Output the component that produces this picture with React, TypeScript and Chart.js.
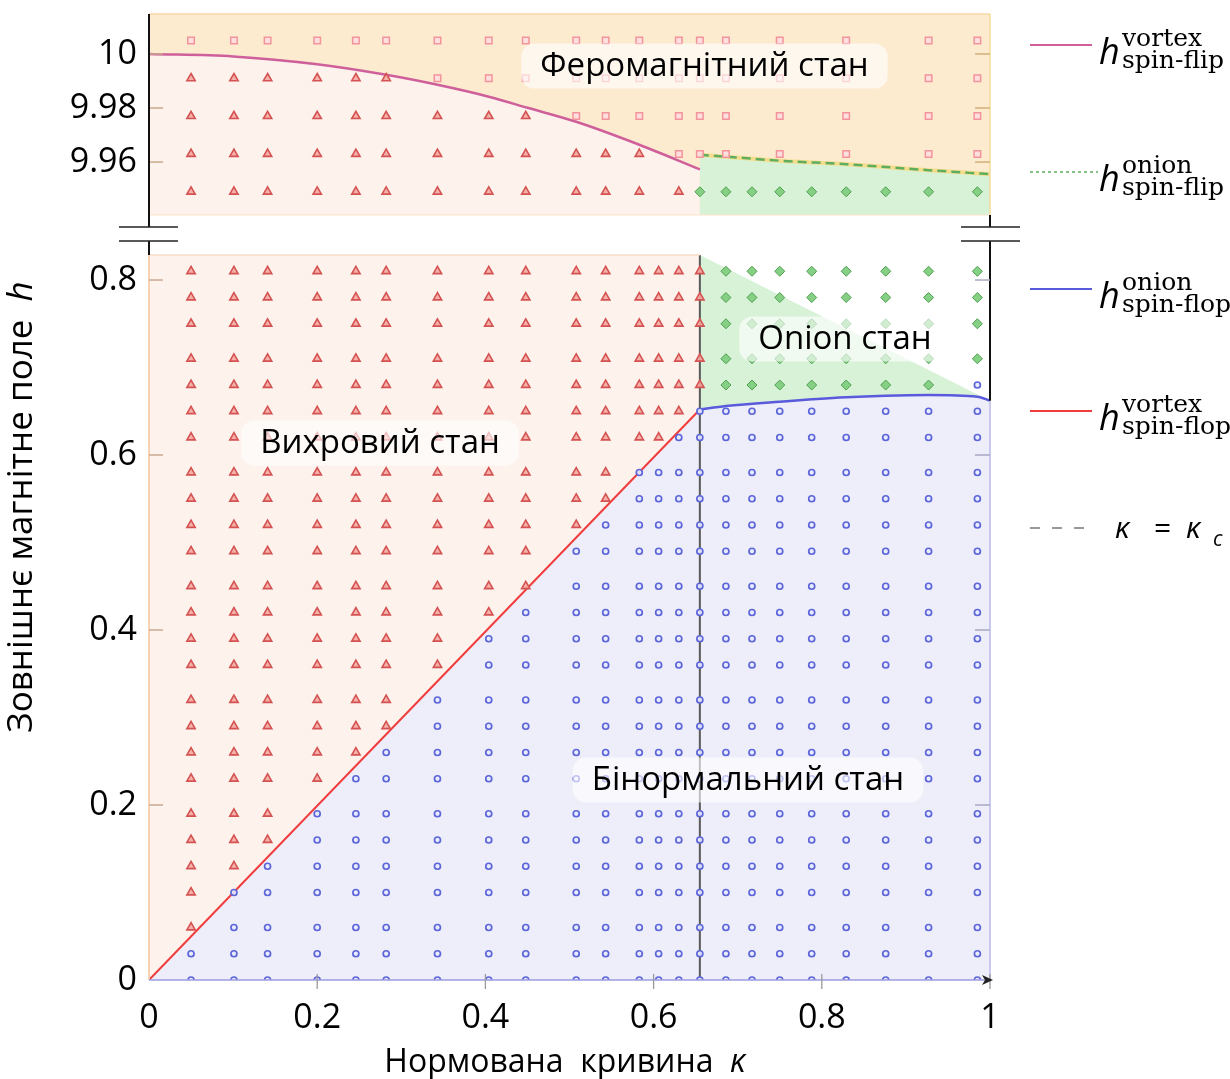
import React, { useEffect, useRef } from "react";
import { Chart, registerables } from "chart.js";

Chart.register(...registerables);

const FONT = "'Open Sans', 'Noto Sans', 'DejaVu Sans', sans-serif";
const SERIF = "'DejaVu Serif', serif";

// ---------- axes ----------
const KAPPA_C = 0.655;
const X_MIN = 0;
const X_MAX = 1;
const X_TICKS = [0, 0.2, 0.4, 0.6, 0.8, 1];
const X_TICK_LABELS = ["0", "0.2", "0.4", "0.6", "0.8", "1"];

const TOP_Y_MIN = 9.9404;
const TOP_Y_MAX = 10.0148;
const TOP_Y_TICKS = [9.96, 9.98, 10];
const TOP_Y_TICK_LABELS = ["9.96", "9.98", "10"];

const BOT_Y_MIN = 0;
const BOT_Y_MAX = 0.8286;
const BOT_Y_TICKS = [0, 0.2, 0.4, 0.6, 0.8];
const BOT_Y_TICK_LABELS = ["0", "0.2", "0.4", "0.6", "0.8"];

// ---------- sampled grid, upper panel ----------
const TOP_ROWS = [9.949, 9.963, 9.977, 9.991, 10.005];
const TOP_LEFT_COLS = [0.05, 0.101, 0.141, 0.2, 0.246, 0.282, 0.343, 0.404, 0.448, 0.508, 0.543, 0.583, 0.63];
const TOP_LEFT_VORTEX_COUNT = [4, 4, 4, 4, 4, 4, 3, 3, 3, 2, 2, 2, 1];
const TOP_RIGHT_FERRO_COLS = [0.655, 0.686, 0.75, 0.829, 0.927, 0.985];
const TOP_RIGHT_ONION_COLS = [0.655, 0.686, 0.717, 0.75, 0.788, 0.829, 0.876, 0.927, 0.985];

// ---------- sampled grid, lower panel ----------
const BOT_ROWS = [0, 0.03, 0.06, 0.1, 0.13, 0.16, 0.19, 0.23, 0.26, 0.29, 0.32, 0.36, 0.39, 0.42, 0.45, 0.49, 0.52, 0.55, 0.58, 0.62, 0.65, 0.68, 0.71, 0.75, 0.78, 0.81];
const BOT_COLS = [0.05, 0.101, 0.141, 0.2, 0.246, 0.282, 0.343, 0.404, 0.448, 0.508, 0.543, 0.583, 0.606, 0.63, 0.655, 0.686, 0.717, 0.75, 0.788, 0.829, 0.876, 0.927, 0.985];
const BOT_BINORMAL_COUNT = [2, 4, 5, 7, 8, 9, 11, 13, 14, 16, 17, 19, 19, 20, 21, 21, 21, 21, 21, 21, 21, 21, 22];

// ---------- boundary curves ----------
const VORTEX_FLIP_K = [0, 0.1, 0.2, 0.282, 0.343, 0.404, 0.45, 0.508, 0.583, 0.655];
const VORTEX_FLIP_H = [10.0, 9.9991, 9.9962, 9.9923, 9.9886, 9.9842, 9.9801, 9.9749, 9.9664, 9.9573];
const ONION_FLIP_K = [0.655, 0.686, 0.75, 0.829, 0.927, 1.0];
const ONION_FLIP_H = [9.9627, 9.962, 9.9605, 9.9592, 9.957, 9.9555];
const ONION_FLOP_K = [0.655, 0.686, 0.75, 0.829, 0.876, 0.927, 0.985, 1.0];
const ONION_FLOP_H = [0.652, 0.656, 0.661, 0.666, 0.6678, 0.6686, 0.6667, 0.662];
const VORTEX_FLOP_K = [0, 0.655];
const VORTEX_FLOP_H = [0, 0.652];
const ONION_EDGE_K = [0.655, 1.0];
const ONION_EDGE_H = [0.8286, 0.662];

// ---------- colours ----------
const C_FERRO_BG = "#fdebd0";
const C_VORTEX_BG = "#fdf2ec";
const C_BIN_BG = "#eeeefa";
const C_ONION_BG = "#d7f2d7";
const C_PINK = "#cf5f9a";
const C_GREEN = "#5fae5f";
const C_BLUE = "#5a5adc";
const C_RED = "#f03c3c";

const zip = (xs: number[], ys: number[]) => xs.map((x, i) => ({ x, y: ys[i] }));

// build marker sets
const topVortexPts: any[] = [];
const topFerroPts: any[] = [];
const topOnionPts: any[] = [];
TOP_LEFT_COLS.forEach((k, i) =>
  TOP_ROWS.forEach((h, j) => {
    (j < TOP_LEFT_VORTEX_COUNT[i] ? topVortexPts : topFerroPts).push({ x: k, y: h });
  })
);
TOP_RIGHT_FERRO_COLS.forEach((k) => TOP_ROWS.slice(1).forEach((h) => topFerroPts.push({ x: k, y: h })));
TOP_RIGHT_ONION_COLS.forEach((k) => topOnionPts.push({ x: k, y: TOP_ROWS[0] }));

const botBinPts: any[] = [];
const botVortexPts: any[] = [];
const botOnionPts: any[] = [];
BOT_COLS.forEach((k, i) =>
  BOT_ROWS.forEach((h, j) => {
    if (j < BOT_BINORMAL_COUNT[i]) botBinPts.push({ x: k, y: h });
    else if (k <= KAPPA_C + 1e-9) botVortexPts.push({ x: k, y: h });
    else botOnionPts.push({ x: k, y: h });
  })
);

const tri = (data: any[], order: number) => ({
  data, showLine: false, order, pointStyle: "triangle", pointRadius: 4.8,
  pointBorderColor: "#d45252", pointBackgroundColor: "rgba(244,170,162,0.9)", pointBorderWidth: 1.6,
});
const sq = (data: any[], order: number) => ({
  data, showLine: false, order, pointStyle: "rect", pointRadius: 4.6,
  pointBorderColor: "#f3939b", pointBackgroundColor: "rgba(255,222,222,0.9)", pointBorderWidth: 1.5,
});
const circ = (data: any[], order: number) => ({
  data, showLine: false, order, pointStyle: "circle", pointRadius: 3,
  pointBorderColor: "#5d66d8", pointBackgroundColor: "rgba(232,234,255,0.9)", pointBorderWidth: 1.7,
});
const dia = (data: any[], order: number) => ({
  data, showLine: false, order, pointStyle: "rectRot", pointRadius: 5,
  pointBorderColor: "#4f9f4f", pointBackgroundColor: "#86d086", pointBorderWidth: 1,
});
const fillSet = (data: any[], fill: string, bg: string, order: number, mono = false) => ({
  data, showLine: true, order, fill, backgroundColor: bg, borderColor: "rgba(0,0,0,0)", borderWidth: 0,
  pointRadius: 0, cubicInterpolationMode: mono ? "monotone" : "default", tension: 0,
});
const lineSet = (data: any[], color: string, width: number, order: number, extra: any = {}) => ({
  data, showLine: true, order, fill: false, borderColor: color, borderWidth: width, pointRadius: 0, tension: 0, ...extra,
});

function yScale(min: number, max: number, ticks: number[], labels: string[]) {
  return {
    type: "linear", min, max,
    afterFit: (s: any) => { s.width = 149; s.paddingTop = 0; s.paddingBottom = 0; },
    afterBuildTicks: (s: any) => { s.ticks = ticks.map((v) => ({ value: v })); },
    ticks: {
      callback: (v: number) => { const i = ticks.findIndex((t) => Math.abs(t - v) < 1e-9); return i >= 0 ? labels[i] : ""; },
      font: { family: FONT, size: 34 }, color: "#000", padding: 12,
    },
    grid: { display: false, drawTicks: false },
    border: { display: false },
  };
}

function seg(ctx: CanvasRenderingContext2D, x1: number, y1: number, x2: number, y2: number, color: string, w: number, dash: number[] = []) {
  ctx.save();
  ctx.strokeStyle = color; ctx.lineWidth = w; ctx.setLineDash(dash);
  ctx.beginPath(); ctx.moveTo(x1, y1); ctx.lineTo(x2, y2); ctx.stroke();
  ctx.restore();
}

function boxLabel(ctx: CanvasRenderingContext2D, text: string, cx: number, cy: number) {
  ctx.save();
  ctx.font = `33px ${FONT}`;
  const w = ctx.measureText(text).width + 38;
  const h = 45;
  const x = cx - w / 2, y = cy - h / 2, r = 13;
  ctx.fillStyle = "rgba(255,255,255,0.62)";
  ctx.beginPath();
  ctx.moveTo(x + r, y); ctx.arcTo(x + w, y, x + w, y + h, r); ctx.arcTo(x + w, y + h, x, y + h, r);
  ctx.arcTo(x, y + h, x, y, r); ctx.arcTo(x, y, x + w, y, r); ctx.closePath(); ctx.fill();
  ctx.fillStyle = "#000"; ctx.textAlign = "center"; ctx.textBaseline = "middle";
  ctx.fillText(text, cx, cy + 1);
  ctx.restore();
}

function rich(ctx: CanvasRenderingContext2D, parts: { t: string; f: string }[], cx: number, cy: number, rot: number) {
  ctx.save();
  ctx.translate(cx, cy); ctx.rotate(rot);
  let total = 0;
  const ws = parts.map((p) => { ctx.font = p.f; const w = ctx.measureText(p.t).width; total += w; return w; });
  let x = -total / 2;
  ctx.fillStyle = "#000"; ctx.textBaseline = "middle"; ctx.textAlign = "left";
  parts.forEach((p, i) => { ctx.font = p.f; ctx.fillText(p.t, x, 0); x += ws[i]; });
  ctx.restore();
}

const LEGEND = [
  { y: 45, color: C_PINK, dash: [] as number[], w: 2.2, x2: 1092, sup: "vortex", sub: "spin-flip" },
  { y: 172, color: C_GREEN, dash: [3, 3], w: 1.5, x2: 1098, sup: "onion", sub: "spin-flip" },
  { y: 289, color: C_BLUE, dash: [] as number[], w: 2.2, x2: 1092, sup: "onion", sub: "spin-flop" },
  { y: 411, color: C_RED, dash: [] as number[], w: 2.2, x2: 1092, sup: "vortex", sub: "spin-flop" },
];

const topDeco = {
  id: "topDeco",
  afterDraw(chart: any) {
    const { ctx, chartArea: a, scales } = chart;
    const x = scales.x, y = scales.y;
    seg(ctx, a.left, a.top, a.right, a.top, "#f7d8a6", 1.5);
    seg(ctx, a.right, a.top, a.right, a.bottom, "#f3dc98", 1.5);
    seg(ctx, a.left, a.bottom, a.right, a.bottom, "#fbe3c8", 1);
    TOP_Y_TICKS.forEach((v) => {
      const py = y.getPixelForValue(v);
      seg(ctx, a.left, py, a.left + 14, py, "#c9a98c", 1.5);
      seg(ctx, a.right - 15, py, a.right, py, "#d2b07c", 1.5);
    });
    seg(ctx, a.left, a.top, a.left, a.bottom + 12, "#111", 2);
    boxLabel(ctx, "Феромагнітний стан", x.getPixelForValue(0.6605), y.getPixelForValue(9.99556));
  },
};

const botDeco = {
  id: "botDeco",
  afterDraw(chart: any) {
    const { ctx, chartArea: a, scales } = chart;
    const x = scales.x, y = scales.y;
    const pkc = x.getPixelForValue(KAPPA_C);
    const pEdge = y.getPixelForValue(ONION_EDGE_H[1]);
    // frame
    seg(ctx, a.left, a.top, a.left, a.bottom, "#f6d2b4", 2);
    seg(ctx, a.left, a.top, pkc, a.top, "#f9dcc4", 1.5);
    seg(ctx, a.right, pEdge, a.right, a.bottom, "#c9c9ee", 2);
    seg(ctx, a.right, a.top - 14, a.right, pEdge, "#111", 2);
    seg(ctx, a.left, a.top - 14, a.left, a.top, "#111", 2);
    seg(ctx, a.right, a.top - 40, a.right, a.top - 28, "#111", 2);
    // break marks
    [a.top - 28, a.top - 14].forEach((py) => {
      seg(ctx, a.left - 30, py, a.left + 29, py, "#222", 1.6);
      seg(ctx, a.right - 29, py, a.right + 30, py, "#222", 1.6);
    });
    // x axis with arrow
    seg(ctx, a.left, a.bottom, a.right, a.bottom, "#9c9ce2", 1.6);
    X_TICKS.forEach((v) => {
      if (v === X_MIN) return;
      const px = x.getPixelForValue(v);
      seg(ctx, px, a.bottom - 6, px, a.bottom + 9, "#9a9a9a", 1.3);
    });
    ctx.save();
    ctx.fillStyle = "#222";
    ctx.beginPath();
    ctx.moveTo(a.right + 3, a.bottom); ctx.lineTo(a.right - 8, a.bottom - 5);
    ctx.lineTo(a.right - 5, a.bottom); ctx.lineTo(a.right - 8, a.bottom + 5); ctx.closePath(); ctx.fill();
    ctx.restore();
    // y inner ticks
    BOT_Y_TICKS.forEach((v) => {
      if (v === 0) return;
      const py = y.getPixelForValue(v);
      seg(ctx, a.left, py, a.left + 14, py, "#caa992", 1.5);
      seg(ctx, a.right - 15, py, a.right, py, "#a8a8c4", 1.5);
    });
    // region labels
    boxLabel(ctx, "Onion стан", x.getPixelForValue(0.8276), y.getPixelForValue(0.7326));
    boxLabel(ctx, "Вихровий стан", x.getPixelForValue(0.2747), y.getPixelForValue(0.6137));
    boxLabel(ctx, "Бінормальний стан", x.getPixelForValue(0.7122), y.getPixelForValue(0.2286));
    // axis titles
    rich(ctx, [{ t: "Нормована  кривина  ", f: `32px ${FONT}` }, { t: "κ", f: `italic 32px ${FONT}` }], 565, 1063, 0);
    rich(ctx, [{ t: "Зовнішнє магнітне поле  ", f: `35px ${FONT}` }, { t: "h", f: `italic 35px ${FONT}` }], 22, 507, -Math.PI / 2);
    // legend
    ctx.save();
    ctx.fillStyle = "#000"; ctx.textAlign = "left"; ctx.textBaseline = "alphabetic";
    LEGEND.forEach((e) => {
      seg(ctx, 1030, e.y, e.x2, e.y, e.color, e.w, e.dash);
      ctx.font = `italic 36px ${FONT}`;
      ctx.fillText("h", 1099, e.y + 19);
      ctx.font = `25px ${SERIF}`;
      ctx.fillText(e.sup, 1122, e.y + 1);
      ctx.fillText(e.sub, 1122, e.y + 23);
    });
    seg(ctx, 1030, 528, 1086, 528, "#999", 2, [10, 12]);
    ctx.font = `italic 30px ${FONT}`;
    ctx.fillText("κ", 1115, 538);
    ctx.font = `30px ${FONT}`;
    ctx.fillText("=", 1154, 538);
    ctx.font = `italic 30px ${FONT}`;
    ctx.fillText("κ", 1186, 538);
    ctx.font = `italic 21px ${FONT}`;
    ctx.fillText("c", 1213, 546);
    ctx.restore();
  },
};

export default function App() {
  const topRef = useRef<HTMLCanvasElement>(null);
  const botRef = useRef<HTMLCanvasElement>(null);

  useEffect(() => {
    const common: any = {
      responsive: false, animation: false, devicePixelRatio: 1, events: [],
      plugins: { legend: { display: false }, tooltip: { enabled: false } },
    };

    const top = new Chart(topRef.current as HTMLCanvasElement, {
      type: "scatter",
      data: {
        datasets: [
          tri(topVortexPts, 10),
          sq(topFerroPts, 11),
          dia(topOnionPts, 12),
          lineSet(zip(VORTEX_FLIP_K, VORTEX_FLIP_H), C_PINK, 2.5, 40, { cubicInterpolationMode: "monotone" }),
          lineSet(zip(ONION_FLIP_K, ONION_FLIP_H), C_GREEN, 2.5, 41, { borderDash: [9, 5], cubicInterpolationMode: "monotone" }),
          lineSet(zip(ONION_FLIP_K, ONION_FLIP_H), "#f6dd8c", 4, 42, { cubicInterpolationMode: "monotone" }),
          fillSet(zip(ONION_FLIP_K, ONION_FLIP_H), "start", C_ONION_BG, 97, true),
          fillSet(zip(VORTEX_FLIP_K, VORTEX_FLIP_H), "start", C_VORTEX_BG, 98, true),
          fillSet(zip([X_MIN, X_MAX], [TOP_Y_MAX, TOP_Y_MAX]), "start", C_FERRO_BG, 99),
        ] as any,
      },
      options: {
        ...common,
        layout: { autoPadding: false, padding: { left: 0, top: 14, right: 240, bottom: 864 } },
        scales: {
          x: { type: "linear", min: X_MIN, max: X_MAX, display: false },
          y: yScale(TOP_Y_MIN, TOP_Y_MAX, TOP_Y_TICKS, TOP_Y_TICK_LABELS),
        },
      } as any,
      plugins: [topDeco],
    });

    const bot = new Chart(botRef.current as HTMLCanvasElement, {
      type: "scatter",
      data: {
        datasets: [
          circ(botBinPts, 10),
          tri(botVortexPts, 11),
          dia(botOnionPts, 12),
          lineSet(zip(ONION_FLOP_K, ONION_FLOP_H), C_BLUE, 2.5, 40, { cubicInterpolationMode: "monotone" }),
          lineSet(zip(VORTEX_FLOP_K, VORTEX_FLOP_H), C_RED, 2, 41),
          lineSet(zip([KAPPA_C, KAPPA_C], [BOT_Y_MIN, BOT_Y_MAX]), "#5a5a5a", 2, 45),
          fillSet(zip(ONION_EDGE_K, ONION_EDGE_H), "end", "#ffffff", 95),
          fillSet(zip(ONION_FLOP_K, ONION_FLOP_H), "end", C_ONION_BG, 96, true),
          fillSet(zip(ONION_FLOP_K, ONION_FLOP_H), "start", C_BIN_BG, 97, true),
          fillSet(zip(VORTEX_FLOP_K, VORTEX_FLOP_H), "start", C_BIN_BG, 98),
          fillSet(zip([X_MIN, KAPPA_C], [BOT_Y_MAX, BOT_Y_MAX]), "start", C_VORTEX_BG, 99),
        ] as any,
      },
      options: {
        ...common,
        layout: { autoPadding: false, padding: { left: 0, top: 255, right: 240, bottom: 0 } },
        scales: {
          x: {
            type: "linear", min: X_MIN, max: X_MAX,
            afterFit: (s: any) => { s.height = 99; s.paddingLeft = 0; s.paddingRight = 0; },
            afterBuildTicks: (s: any) => { s.ticks = X_TICKS.map((v) => ({ value: v })); },
            ticks: {
              callback: (v: number) => { const i = X_TICKS.findIndex((t) => Math.abs(t - v) < 1e-9); return i >= 0 ? X_TICK_LABELS[i] : ""; },
              font: { family: FONT, size: 34 }, color: "#000", padding: 18, maxRotation: 0, autoSkip: false,
            },
            grid: { display: false, drawTicks: false },
            border: { display: false },
          },
          y: yScale(BOT_Y_MIN, BOT_Y_MAX, BOT_Y_TICKS, BOT_Y_TICK_LABELS),
        },
      } as any,
      plugins: [botDeco],
    });

    return () => { top.destroy(); bot.destroy(); };
  }, []);

  return (
    <div style={{ position: "absolute", left: 0, top: 0, width: 1230, height: 1079, background: "#fff", overflow: "hidden" }}>
      <canvas ref={topRef} width={1230} height={1079} style={{ position: "absolute", left: 0, top: 0 }} />
      <canvas ref={botRef} width={1230} height={1079} style={{ position: "absolute", left: 0, top: 0 }} />
    </div>
  );
}
